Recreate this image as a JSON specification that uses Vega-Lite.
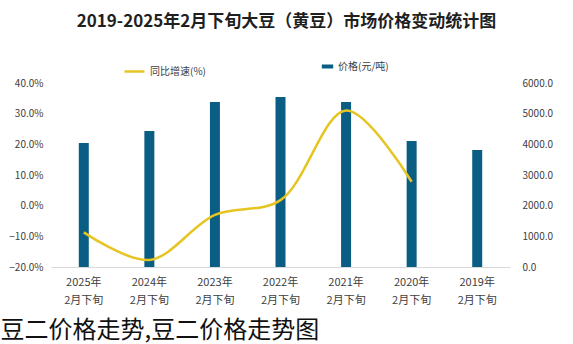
{
  "$schema": "https://vega.github.io/schema/vega-lite/v6.json",
  "width": 459,
  "height": 184,
  "autosize": {"type": "none"},
  "padding": {"left": 51, "top": 83, "right": 63, "bottom": 77},
  "background": "white",
  "config": {
    "font": "Noto Sans CJK SC",
    "view": {"stroke": null},
    "axis": {"labelFont": "Noto Sans CJK SC", "titleFont": "Noto Sans CJK SC"},
    "legend": {"labelFont": "Noto Sans CJK SC"}
  },
  "title": {
    "text": "2019-2025年2月下旬大豆（黄豆）市场价格变动统计图",
    "fontSize": 17,
    "fontWeight": "bold",
    "color": "#1f1f1f",
    "anchor": "middle",
    "offset": 29,
    "dx": 6
  },
  "data": {
    "values": [
      {"period": "2025年 2月下旬", "price": 4043, "yoy": -8.7},
      {"period": "2024年 2月下旬", "price": 4435, "yoy": -17.7},
      {"period": "2023年 2月下旬", "price": 5380, "yoy": -3.0},
      {"period": "2022年 2月下旬", "price": 5543, "yoy": 1.8},
      {"period": "2021年 2月下旬", "price": 5380, "yoy": 31.0},
      {"period": "2020年 2月下旬", "price": 4109, "yoy": 7.8},
      {"period": "2019年 2月下旬", "price": 3815, "yoy": null}
    ]
  },
  "encoding": {
    "x": {
      "field": "period",
      "type": "nominal",
      "sort": null,
      "scale": {"paddingInner": 0, "paddingOuter": 0},
      "axis": {
        "labelAngle": 0,
        "labelExpr": "split(datum.label, ' ')",
        "labelFontSize": 11,
        "labelColor": "#404040",
        "labelLineHeight": 18,
        "labelPadding": 9,
        "ticks": false,
        "domainColor": "#d9d9d9",
        "domainWidth": 1,
        "title": "豆二价格走势,豆二价格走势图",
        "titleFontSize": 24,
        "titleFontWeight": "normal",
        "titleColor": "#111111",
        "titleAnchor": "start",
        "titleAlign": "left",
        "titleBaseline": "alphabetic",
        "titleX": -51,
        "titleY": 70
      }
    }
  },
  "layer": [
    {
      "mark": {"type": "bar", "size": 10},
      "encoding": {
        "y": {
          "field": "price",
          "type": "quantitative",
          "scale": {"domain": [0, 6000], "nice": false},
          "axis": {
            "orient": "right",
            "title": null,
            "values": [0, 1000, 2000, 3000, 4000, 5000, 6000],
            "format": ".1f",
            "labelFontSize": 10,
            "labelColor": "#404040",
            "labelPadding": 12,
            "ticks": false,
            "domain": false,
            "grid": false
          }
        },
        "fill": {
          "datum": "价格(元/吨)",
          "type": "nominal",
          "scale": {"range": ["#0a5e83"]},
          "legend": {
            "title": null,
            "orient": "none",
            "legendX": 270,
            "legendY": -23,
            "symbolType": "M-1,-0.35H1V0.35H-1Z",
            "symbolSize": 130,
            "labelFontSize": 10,
            "labelColor": "#404040"
          }
        }
      }
    },
    {
      "mark": {"type": "line", "interpolate": "catmull-rom", "strokeWidth": 2.5},
      "encoding": {
        "y": {
          "field": "yoy",
          "type": "quantitative",
          "scale": {"domain": [-20, 40], "nice": false},
          "axis": {
            "orient": "left",
            "title": null,
            "values": [-20, -10, 0, 10, 20, 30, 40],
            "labelExpr": "format(datum.value, '.1f') + '%'",
            "labelFontSize": 10,
            "labelColor": "#404040",
            "labelPadding": 8,
            "ticks": false,
            "domain": false,
            "grid": false
          }
        },
        "stroke": {
          "datum": "同比增速(%)",
          "type": "nominal",
          "scale": {"range": ["#e6c422"]},
          "legend": {
            "title": null,
            "orient": "none",
            "legendX": 72,
            "legendY": -23,
            "symbolType": "stroke",
            "symbolSize": 400,
            "symbolStrokeWidth": 2.5,
            "labelFontSize": 10,
            "labelColor": "#404040"
          }
        }
      }
    }
  ],
  "resolve": {"scale": {"y": "independent", "fill": "independent", "stroke": "independent"}}
}
